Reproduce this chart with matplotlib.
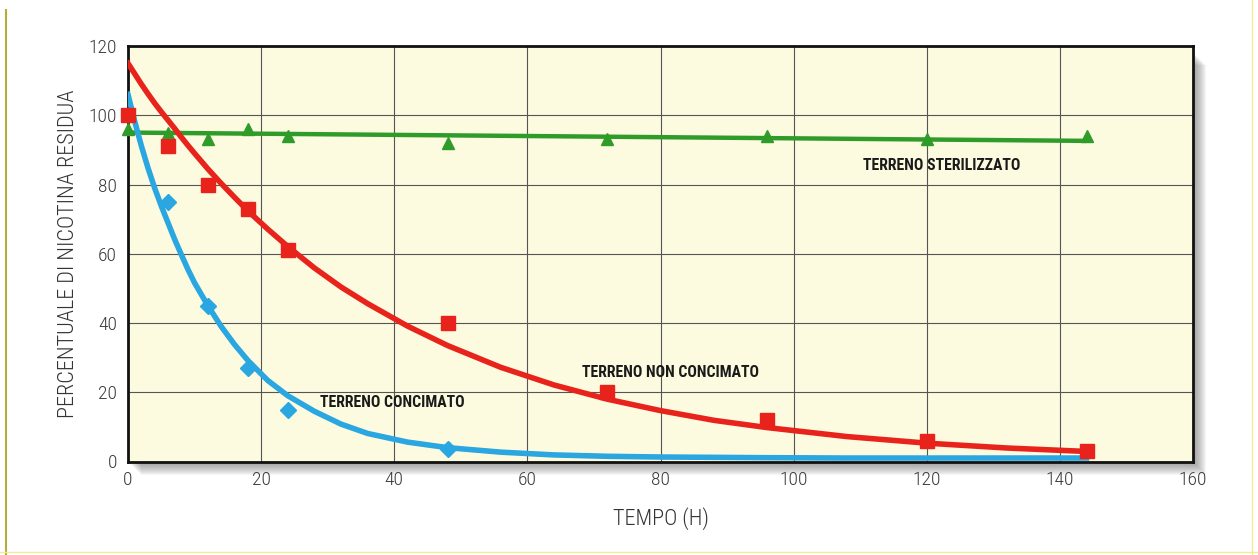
import matplotlib.pyplot as plt
from matplotlib.patches import Rectangle
from matplotlib.lines import Line2D
from matplotlib import font_manager

# dati
tempo = [0, 6, 12, 18, 24, 48, 72, 96, 120, 144]
sterilizzato = [96, 95, 93, 96, 94, 92, 93, 94, 93, 94]
non_concimato = [100, 91, 80, 73, 61, 40, 20, 12, 6, 3]
tempo_conc = [6, 12, 18, 24, 48]
concimato = [75, 45, 27, 15, 3.5]

# curve di tendenza (valori letti lungo le linee)
t_curva = [0, 1, 2, 3, 4, 5, 6, 7, 8, 9, 10, 12, 14, 16, 18, 21, 24, 28, 32,
           36, 42, 48, 56, 64, 72, 80, 88, 96, 108, 120, 132, 144]
curva_non_conc = [115, 112, 109, 106.2, 103.5, 101, 98.6, 96.2, 93.7, 91.3,
                  89, 84.5, 80.3, 76.3, 72.4, 67.1, 62.1, 55.9, 50.4, 45.6,
                  39.1, 33.5, 27.2, 22.1, 18.0, 14.7, 11.9, 9.8, 7.2, 5.3,
                  3.9, 2.9]
curva_conc = [106, 98.3, 91.2, 84.8, 79, 73.8, 69, 64.2, 59.8, 55.5, 51.6,
              45, 39, 33.8, 29.2, 23.4, 19, 14.5, 10.8, 8.1, 5.6, 4.0, 2.7,
              1.9, 1.5, 1.3, 1.2, 1.1, 1.0, 1.0, 1.0, 1.0]
t_steril = [0, 144]
curva_steril = [95, 92.6]

nomi = {f.name for f in font_manager.fontManager.ttflist}
cond = 'Roboto'
for nome in ['Liberation Sans Narrow', 'Roboto Condensed', 'Open Sans Condensed']:
    if nome in nomi:
        cond = nome
        break
plt.rcParams['font.family'] = [cond, 'DejaVu Sans']

W, H = 1258, 555
fig = plt.figure(figsize=(W / 100, H / 100), dpi=100)
fig.patch.set_facecolor('white')

left, right, top, bottom = 128, 1193, 46, 461.5
ax = fig.add_axes([left / W, 1 - bottom / H, (right - left) / W, (bottom - top) / H])

# ombra del riquadro
for k in range(1, 14):
    fig.patches.append(Rectangle(((left + k) / W, 1 - (bottom + k) / H),
                                 (right - left) / W, (bottom - top - 6) / H,
                                 transform=fig.transFigure, facecolor='#555555',
                                 edgecolor='none', alpha=0.055, zorder=0))

# bordi della pagina
fig.lines.append(Line2D([6 / W, 6 / W], [0, 1 - 10 / H], transform=fig.transFigure,
                        color='#b5ad3a', lw=1.5))
fig.lines.append(Line2D([1252 / W, 1252 / W], [0, 1], transform=fig.transFigure,
                        color='#f1ea9a', lw=1))
fig.lines.append(Line2D([0, 1], [3 / H, 3 / H], transform=fig.transFigure,
                        color='#f1ea9a', lw=1))

ax.set_facecolor('#fcfbe0')
ax.set_zorder(2)
ax.set_xlim(0, 160)
ax.set_ylim(0, 120)
ax.set_xticks(range(0, 161, 20))
ax.set_yticks(range(0, 121, 20))
ax.grid(True, color='#555555', lw=0.8)
ax.set_axisbelow(True)
ax.tick_params(length=0, labelsize=14, labelcolor='#3a3a3a')
ax.tick_params(axis='x', pad=7)
ax.tick_params(axis='y', pad=8)
for lab in ax.get_xticklabels() + ax.get_yticklabels():
    lab.set_fontweight('light')
for s in ax.spines.values():
    s.set_linewidth(2)
    s.set_color('#111111')

verde = '#2f9c2a'
rosso = '#e8231c'
blu = '#2aa6e0'

ax.plot(t_steril, curva_steril, color=verde, lw=3.2, zorder=3, solid_capstyle='butt')
ax.plot(t_curva, curva_conc, color=blu, lw=4, zorder=4)
ax.plot(t_curva, curva_non_conc, color=rosso, lw=4, zorder=5)

ax.plot(tempo, sterilizzato, '^', color=verde, ms=8.5, zorder=6, clip_on=False)
ax.plot(tempo_conc, concimato, 'D', color=blu, ms=8, zorder=6, clip_on=False)
ax.plot(tempo, non_concimato, 's', color=rosso, ms=9.5, zorder=7, clip_on=False)

font_et = dict(fontsize=11.3, fontweight='bold', color='#1a1a1a')
ax.text(110.4, 85.4, 'TERRENO STERILIZZATO', va='center', **font_et)
ax.text(68.2, 25.8, 'TERRENO NON CONCIMATO', va='center', **font_et)
ax.text(28.8, 16.9, 'TERRENO CONCIMATO', va='center', **font_et)

ax.set_ylabel('PERCENTUALE DI NICOTINA RESIDUA', fontsize=16, color='#333333',
              labelpad=7, fontweight='light')
ax.set_xlabel('TEMPO (H)', fontsize=16, color='#333333', labelpad=13,
              fontweight='light')

fig.savefig('out.png', dpi=100)
